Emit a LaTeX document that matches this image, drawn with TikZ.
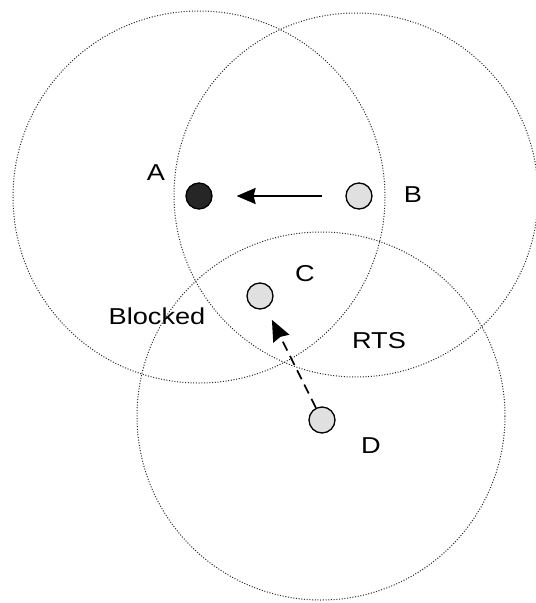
\documentclass[tikz,border=0pt]{standalone}
\usepackage{fontspec}
\setmainfont{Liberation Sans}
\usetikzlibrary{arrows.meta}
\tikzset{
  coverage/.style={draw=black!85, line width=1pt, dash pattern=on 1pt off 1.7pt},
  stationnode/.style={circle, draw=black, line width=1.3pt, minimum size=26pt, inner sep=0pt, fill=black!12},
  textlbl/.style={font=\fontsize{23}{25}\selectfont, inner sep=0pt},
  msgtip/.style={-{Stealth[length=#1, width=0.85*#1, inset=2pt]}},
}
\newcommand{\wlbl}[1]{\scalebox{1.18}[1]{#1}}
\begin{document}
\begin{tikzpicture}[x=1pt,y=-1pt]
  \useasboundingbox (0,0) rectangle (536,603);
  % transmission ranges
  \draw[coverage] (199,197) circle[radius=186];
  \draw[coverage] (356,195) circle[radius=182];
  \draw[coverage] (321,416) circle[radius=184];
  % stations
  \node[stationnode, fill=black!85] (A) at (199,196) {};
  \node[stationnode] (B) at (359,196) {};
  \node[stationnode] (C) at (260,296) {};
  \node[stationnode] (D) at (322,420) {};
  % labels
  \node[textlbl] (lA) at (156,173) {\wlbl{A}};
  \node[textlbl] (lB) at (413,195) {\wlbl{B}};
  \node[textlbl] (lC) at (305,274) {\wlbl{C}};
  \node[textlbl] (lD) at (371,446) {\wlbl{D}};
  \node[textlbl] (lBlk) at (157,316) {\wlbl{Blocked}};
  \node[textlbl] (lRTS) at (379,341) {\wlbl{RTS}};
  % messages
  \draw[line width=1.3pt, msgtip=19pt, shorten <=23pt, shorten >=24pt] (B) -- (A);
  \draw[line width=1.6pt, dash pattern=on 10pt off 6pt, msgtip=21pt, shorten >=13pt] (D) -- (C);
\end{tikzpicture}
\end{document}
